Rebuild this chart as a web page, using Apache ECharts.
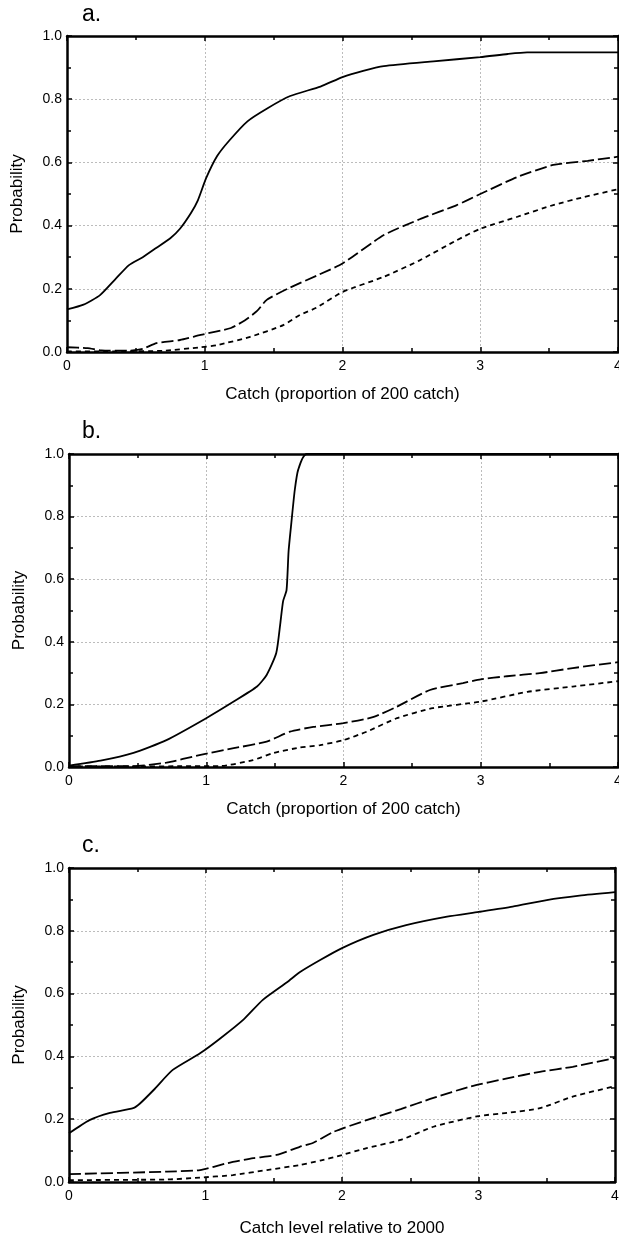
<!DOCTYPE html>
<html>
<head>
<meta charset="utf-8">
<script src="https://cdn.jsdelivr.net/npm/echarts@6/dist/echarts.min.js"></script>
<style>
  html, body { margin: 0; padding: 0; background: #fff; }
  #container { width: 619px; height: 1238px; }
</style>
</head>
<body>
<div id="container"></div>
<script>
(function () {
  'use strict';

  // x ticks, y ticks
  var xTicks = [0, 1, 2, 3, 4];
  var yTicks = [0, 0.2, 0.4, 0.6, 0.8, 1.0];

  var panelLabels = ['a.', 'b.', 'c.'];
  var xNames = [
    'Catch (proportion of 200 catch)',
    'Catch (proportion of 200 catch)',
    'Catch level relative to 2000'
  ];

  // panel a
  var aSolid = [[0,0.135],[0.12,0.15],[0.24,0.18],[0.35,0.23],[0.45,0.275],[0.55,0.30],[0.65,0.33],
    [0.75,0.36],[0.82,0.39],[0.9,0.44],[0.95,0.48],[1.01,0.55],[1.09,0.62],[1.18,0.67],[1.31,0.73],
    [1.45,0.77],[1.62,0.81],[1.84,0.84],[2.0,0.87],[2.15,0.89],[2.3,0.905],[2.66,0.92],[3.0,0.933],
    [3.2,0.943],[3.34,0.948],[4,0.948]];
  var aLong = [[0,0.015],[0.15,0.012],[0.25,0.005],[0.45,0.004],[0.55,0.01],[0.65,0.028],[0.82,0.038],
    [0.97,0.054],[1.19,0.076],[1.29,0.10],[1.38,0.13],[1.45,0.165],[1.6,0.20],[1.82,0.243],[2.0,0.28],
    [2.3,0.37],[2.56,0.42],[2.83,0.465],[3.0,0.50],[3.27,0.554],[3.53,0.592],[3.78,0.605],[4,0.618]];
  var aShort = [[0,0.002],[0.4,0.002],[0.7,0.004],[0.97,0.015],[1.09,0.022],[1.33,0.048],[1.57,0.085],
    [1.69,0.117],[1.81,0.14],[2.0,0.19],[2.3,0.238],[2.56,0.29],[2.83,0.354],[3.0,0.39],[3.27,0.428],
    [3.53,0.465],[3.75,0.49],[4,0.515]];

  // panel b
  var bSolid = [[0,0.004],[0.23,0.02],[0.47,0.045],[0.71,0.086],[1.0,0.156],[1.2,0.209],[1.37,0.257],
    [1.44,0.294],[1.51,0.364],[1.54,0.46],[1.56,0.53],[1.585,0.565],[1.6,0.69],[1.62,0.78],[1.645,0.885],
    [1.67,0.95],[1.73,1.0],[4,1.0]];
  var bLong = [[0,0.003],[0.47,0.003],[0.71,0.014],[0.95,0.038],[1.2,0.06],[1.44,0.081],[1.61,0.113],
    [1.78,0.128],[2.0,0.14],[2.22,0.16],[2.39,0.193],[2.63,0.246],[2.87,0.268],[3.0,0.28],[3.19,0.29],
    [3.43,0.30],[3.67,0.316],[4,0.335]];
  var bShort = [[0,0.002],[1.1,0.003],[1.34,0.022],[1.49,0.045],[1.68,0.062],[1.83,0.07],[2.0,0.086],
    [2.17,0.113],[2.39,0.156],[2.65,0.188],[3.0,0.209],[3.34,0.24],[3.67,0.257],[4,0.274]];

  // panel c
  var cSolid = [[0,0.155],[0.15,0.197],[0.3,0.22],[0.47,0.235],[0.52,0.25],[0.62,0.293],[0.76,0.357],
    [0.96,0.41],[1.11,0.458],[1.28,0.518],[1.42,0.58],[1.6,0.637],[1.69,0.668],[1.84,0.707],[2.0,0.745],
    [2.23,0.787],[2.47,0.818],[2.77,0.845],[3.0,0.86],[3.25,0.877],[3.5,0.898],[3.74,0.912],[4,0.923]];
  var cLong = [[0,0.025],[0.72,0.033],[0.96,0.038],[1.16,0.06],[1.35,0.076],[1.52,0.086],[1.69,0.112],
    [1.79,0.125],[1.94,0.16],[2.18,0.197],[2.43,0.232],[2.67,0.268],[2.94,0.304],[3.21,0.33],[3.45,0.351],
    [3.69,0.367],[4,0.395]];
  var cShort = [[0,0.006],[0.72,0.008],[0.96,0.014],[1.2,0.022],[1.45,0.038],[1.69,0.054],[1.84,0.068],
    [2.0,0.086],[2.18,0.108],[2.43,0.134],[2.67,0.176],[3.0,0.21],[3.21,0.22],[3.45,0.235],[3.69,0.272],
    [4,0.305]];

  var panelSeries = [[aSolid, aLong, aShort], [bSolid, bLong, bShort], [cSolid, cLong, cShort]];

  var FONT = '"Liberation Sans", Arial, sans-serif';
  var grids = [
    { left: 67, top: 36, width: 551, height: 316 },
    { left: 69, top: 454, width: 549, height: 313 },
    { left: 69, top: 868, width: 546, height: 314 }
  ];
  var labelTops = [3, 420, 834];
  var xNameGaps = [34, 34, 38];
  var dashes = ['solid', [12, 4], [5, 4]];

  var frameLine = { show: true, onZero: false, lineStyle: { color: '#000', width: 2.5 } };
  var gridLine = { show: true, lineStyle: { color: '#bcbcbc', width: 1, type: [2, 2] } };

  var option = {
    animation: false,
    backgroundColor: '#fff',
    title: [],
    grid: [],
    xAxis: [],
    yAxis: [],
    series: []
  };

  grids.forEach(function (g, i) {
    option.grid.push({
      left: g.left, top: g.top, width: g.width, height: g.height,
      containLabel: false, outerBoundsMode: 'none'
    });
    option.title.push({
      text: panelLabels[i], left: 82, top: labelTops[i], padding: 0,
      textStyle: { fontFamily: FONT, fontSize: 23, fontWeight: 'normal', color: '#000' }
    });

    var xBase = {
      gridIndex: i, type: 'value', min: xTicks[0], max: xTicks[xTicks.length - 1], interval: 1,
      axisLine: frameLine,
      axisTick: { show: true, inside: true, length: 5, lineStyle: { color: '#000', width: 1.5 } },
      minorTick: { show: true, splitNumber: 2, length: 4, lineStyle: { color: '#000', width: 1.5 } }
    };
    option.xAxis.push(Object.assign({}, xBase, {
      position: 'bottom',
      name: xNames[i], nameLocation: 'middle', nameGap: xNameGaps[i],
      nameTextStyle: { fontFamily: FONT, fontSize: 17, color: '#000' },
      axisLabel: { fontFamily: FONT, fontSize: 14, color: '#000', margin: 7 },
      splitLine: gridLine
    }));
    option.xAxis.push(Object.assign({}, xBase, {
      position: 'top', axisLabel: { show: false }, splitLine: { show: false }
    }));

    var yBase = {
      gridIndex: i, type: 'value', min: yTicks[0], max: yTicks[yTicks.length - 1], interval: 0.2,
      axisLine: frameLine,
      axisTick: { show: true, inside: true, length: 5, lineStyle: { color: '#000', width: 1.5 } },
      minorTick: { show: true, splitNumber: 2, length: 4, lineStyle: { color: '#000', width: 1.5 } }
    };
    option.yAxis.push(Object.assign({}, yBase, {
      position: 'left',
      name: 'Probability', nameLocation: 'middle', nameGap: 41, nameRotate: 90,
      nameTextStyle: { fontFamily: FONT, fontSize: 17, color: '#000' },
      axisLabel: {
        fontFamily: FONT, fontSize: 14, color: '#000', margin: 5,
        formatter: function (v) { return v.toFixed(1); }
      },
      splitLine: gridLine
    }));
    option.yAxis.push(Object.assign({}, yBase, {
      position: 'right', axisLabel: { show: false }, splitLine: { show: false }
    }));

    panelSeries[i].forEach(function (data, k) {
      option.series.push({
        type: 'line',
        xAxisIndex: 2 * i,
        yAxisIndex: 2 * i,
        data: data,
        showSymbol: false,
        symbol: 'none',
        smooth: 0.2,
        clip: true,
        lineStyle: { color: '#000', width: 1.8, type: dashes[k] },
        z: 3
      });
    });
  });

  var chart = echarts.init(document.getElementById('container'), null, { renderer: 'canvas' });
  chart.setOption(option);
})();
</script>
</body>
</html>
